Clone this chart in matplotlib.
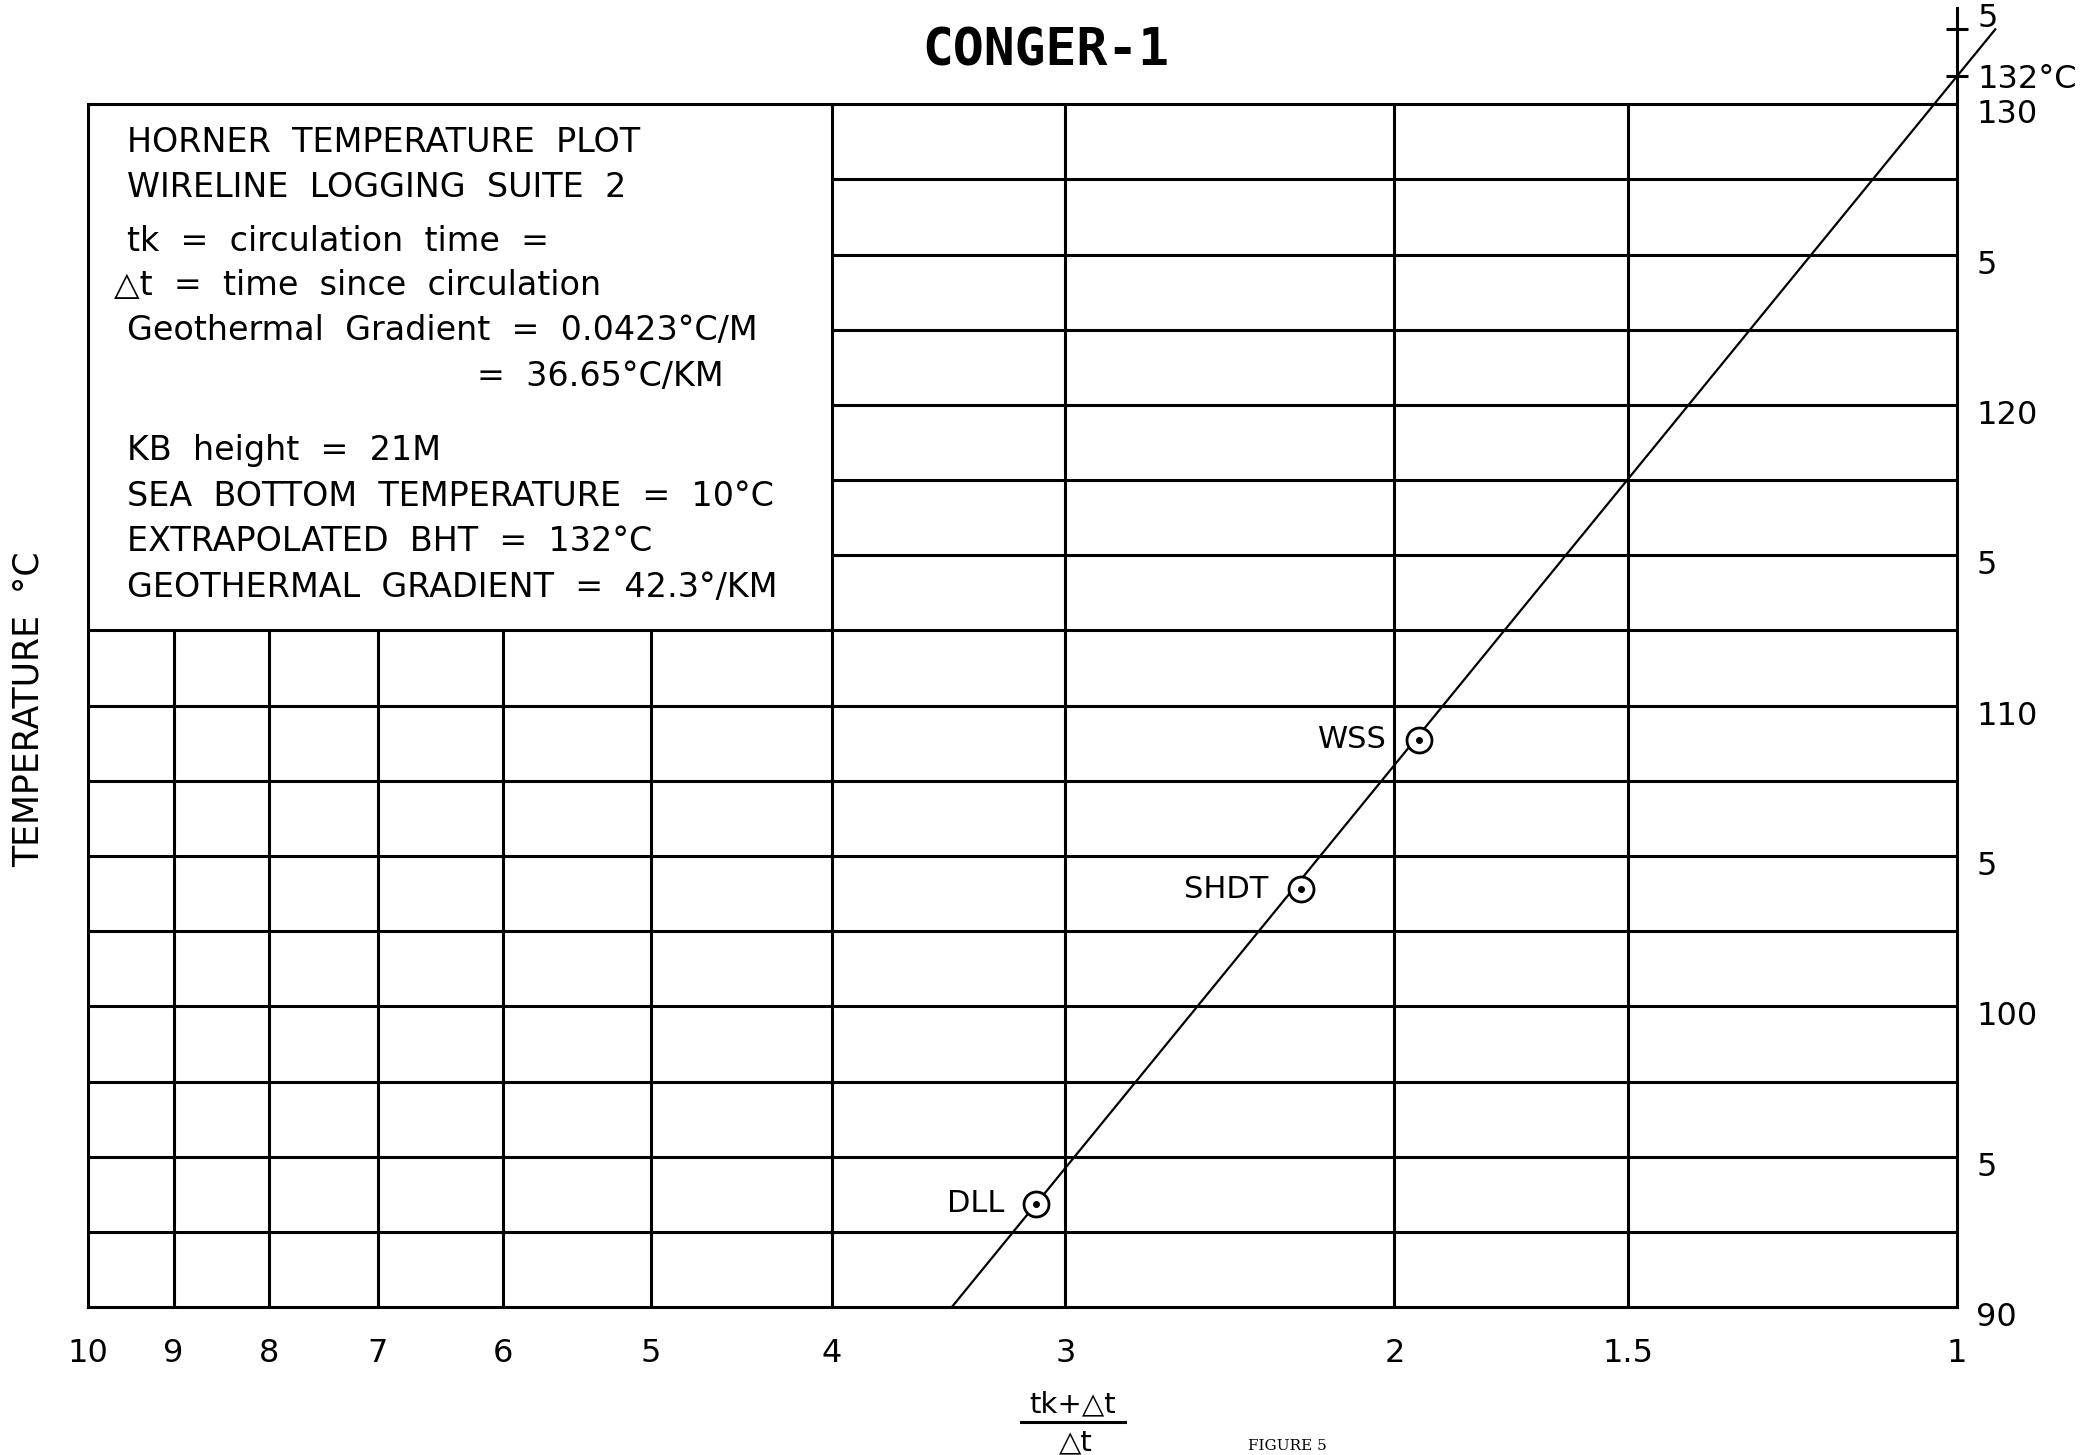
import numpy as np
import matplotlib.pyplot as plt
from matplotlib.transforms import blended_transform_factory, ScaledTranslation
from matplotlib.ticker import NullLocator

# log readings (x = (tk+dt)/dt, temperature in deg C)
tool_names = ['WSS', 'SHDT', 'DLL']
tool_x = [1.94, 2.245, 3.11]
tool_t = [108.87, 103.9, 93.44]

# extrapolated Horner line, ends
horner_x = [3.45, 0.954]
horner_t = [90.0, 132.49]

x_ticks = [10, 9, 8, 7, 6, 5, 4, 3, 2, 1.5, 1]
x_labels = ['10', '9', '8', '7', '6', '5', '4', '3', '2', '1.5', '1']
y_ticks = [90, 95, 100, 105, 110, 115, 120, 125, 130]
y_labels = ['90', '5', '100', '5', '110', '5', '120', '5', '130']

grid_t = np.arange(92.5, 130.1, 2.5)
short_vx = [9, 8, 7, 6, 5]
long_vx = [4, 3, 2, 1.5]
box_bottom = 112.5
box_top = 130

info_lines = [
    (0.0209, 128.74, 'HORNER  TEMPERATURE  PLOT'),
    (0.0209, 127.23, 'WIRELINE  LOGGING  SUITE  2'),
    (0.0209, 125.45, 'tk  =  circulation  time  ='),
    (0.0137, 123.98, '\u25b3t  =  time  since  circulation'),
    (0.0209, 122.48, 'Geothermal  Gradient  =  0.0423\u00b0C/M'),
    (0.208, 120.96, '=  36.65\u00b0C/KM'),
    (0.0209, 118.47, 'KB  height  =  21M'),
    (0.0209, 116.96, 'SEA  BOTTOM  TEMPERATURE  =  10\u00b0C'),
    (0.0209, 115.45, 'EXTRAPOLATED  BHT  =  132\u00b0C'),
    (0.0209, 113.94, 'GEOTHERMAL  GRADIENT  =  42.3\u00b0/KM'),
]

plt.rcParams['font.family'] = ['DejaVu Sans']
lw = 2.2

fig = plt.figure(figsize=(20.97, 14.55), dpi=100)
ax = fig.add_axes([0.04196, 0.1017, 0.8913, 0.8928])
ax.set_xscale('log')
ax.set_xlim(10, 1)
ax.set_ylim(90, 133.2)

# grid: lines inside the text box area start at x=4
left_end = [10 if (t <= box_bottom or t >= box_top) else 4 for t in grid_t]
ax.hlines(grid_t, left_end, 1, color='k', lw=lw)
ax.vlines(short_vx, 90, box_bottom, color='k', lw=lw)
ax.vlines(long_vx, 90, box_top, color='k', lw=lw)

ax.spines['top'].set_visible(False)
ax.spines['left'].set_bounds(90, box_top)
for s in ['left', 'right', 'bottom']:
    ax.spines[s].set_linewidth(lw)

ax.plot(horner_x, horner_t, color='k', lw=1.6, clip_on=False)
ax.plot(tool_x, tool_t, 'o', ms=18, mfc='white', mec='k', mew=2)
ax.plot(tool_x, tool_t, 'o', ms=4, color='k')
for n, x, t in zip(tool_names, tool_x, tool_t):
    ax.annotate(n, (x, t), xytext=(-23, 0), textcoords='offset points',
                ha='right', va='center', fontsize=22)

tr = blended_transform_factory(ax.transAxes, ax.transData)
for x, t, s in info_lines:
    ax.text(x, t, s, transform=tr, ha='left', va='center', fontsize=24)

ax.set_xticks(x_ticks, x_labels)
ax.xaxis.set_minor_locator(NullLocator())
ax.tick_params(axis='x', length=0, pad=22, labelsize=23)

ax.yaxis.tick_right()
ax.set_yticks(y_ticks, y_labels)
x_at_one = np.log10(horner_x[0]) / (np.log10(horner_x[0]) - np.log10(horner_x[1]))
t_at_one = horner_t[0] + (horner_t[1] - horner_t[0]) * x_at_one
ax.set_yticks([t_at_one, 132.5], ['132\u00b0C', '5'], minor=True)
ax.tick_params(axis='y', which='major', length=0, pad=14, labelsize=23)
ax.tick_params(axis='y', which='minor', length=16, width=lw, direction='inout',
               pad=7, labelsize=23)

for lab in ax.get_yticklabels():
    lab.set_transform(lab.get_transform() + ScaledTranslation(0, -0.07, fig.dpi_scale_trans))
minor_labs = ax.get_yticklabels(minor=True)
minor_labs[1].set_transform(minor_labs[1].get_transform()
                            + ScaledTranslation(0, 0.14, fig.dpi_scale_trans))

fig.text(1046 / 2097, 1 - 52 / 1455, 'CONGER-1', ha='center', va='center',
         family='DejaVu Sans Mono', fontweight='bold', fontsize=37)
fig.text(29 / 2097, 1 - 709 / 1455, 'TEMPERATURE  \u00b0C', rotation=90,
         ha='center', va='center', fontsize=25)

fig.text(1073 / 2097, 1 - 1404 / 1455, 'tk+\u25b3t', ha='center', va='center', fontsize=21)
fig.text(1076 / 2097, 1 - 1442 / 1455, '\u25b3t', ha='center', va='center', fontsize=21)
fig.add_artist(plt.Line2D([1021 / 2097, 1125 / 2097], [1 - 1422 / 1455, 1 - 1422 / 1455],
                          color='k', lw=2.2))
fig.text(1248 / 2097, 2 / 1455, 'FIGURE 5', ha='left', va='bottom',
         family='DejaVu Serif', fontsize=11)

fig.savefig('out.png', dpi=100)
